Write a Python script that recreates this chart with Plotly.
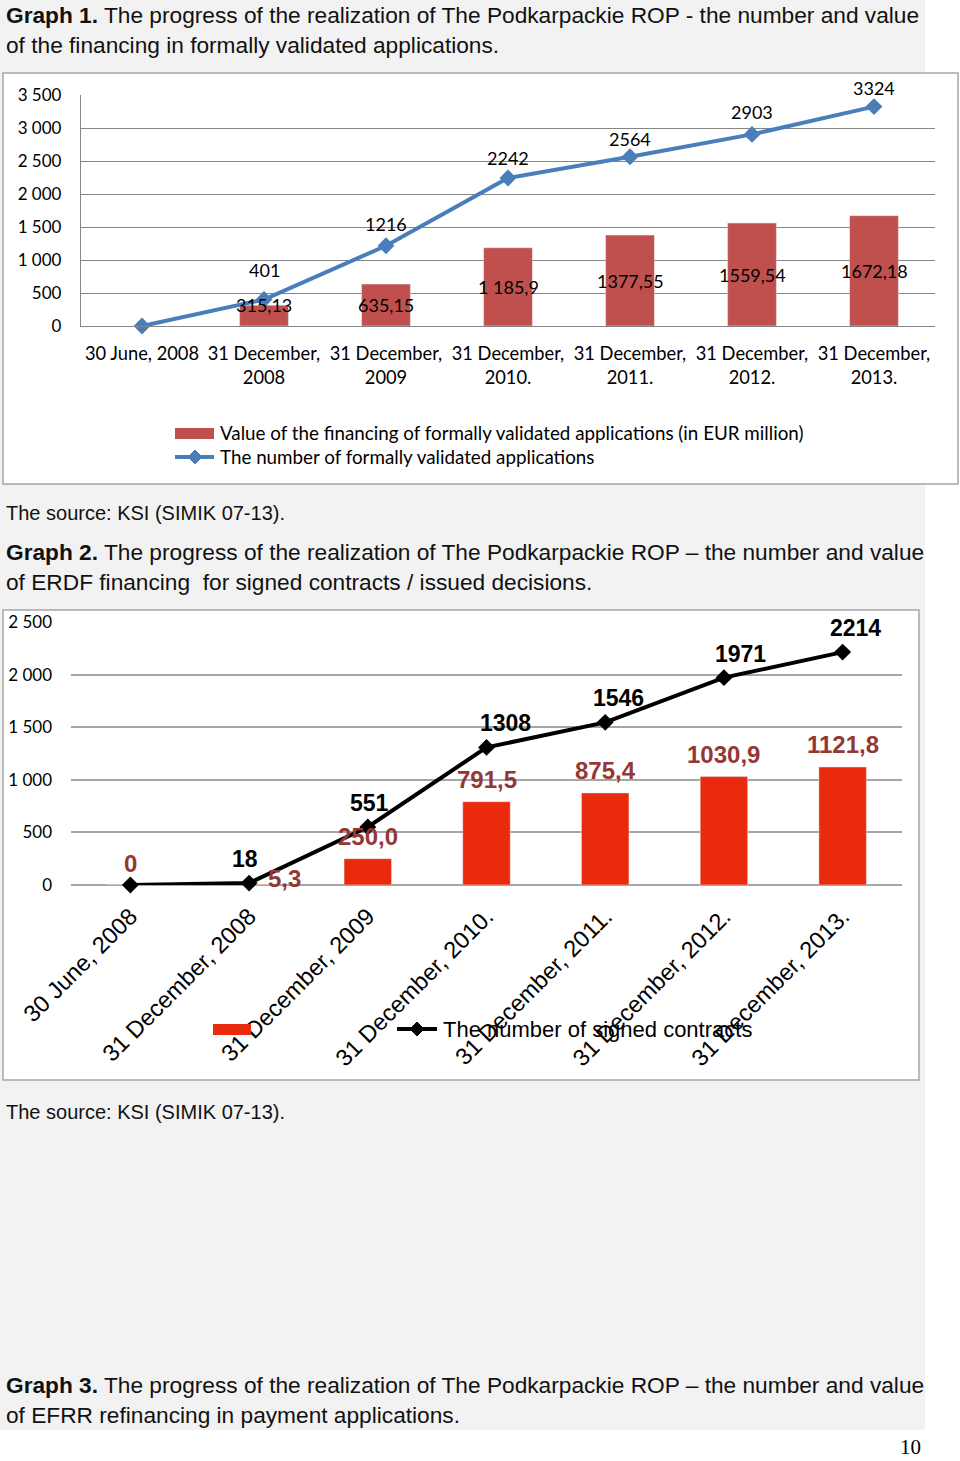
import plotly.graph_objects as go

W, H = 960, 1461

# ---------------- data ----------------
cats1 = ["30 June, 2008", "31 December,<br>2008", "31 December,<br>2009", "31 December,<br>2010.",
         "31 December,<br>2011.", "31 December,<br>2012.", "31 December,<br>2013."]
fin_value1 = [None, 315.13, 635.15, 1185.9, 1377.55, 1559.54, 1672.18]
fin_label1 = ["", "315,13", "635,15", "1 185,9", "1377,55", "1559,54", "1672,18"]
apps_count1 = [0, 401, 1216, 2242, 2564, 2903, 3324]
name_bar1 = "Value of the financing of formally validated applications (in EUR million)"
name_line1 = "The number of formally validated applications"

cats2 = ["30 June, 2008", "31 December, 2008", "31 December, 2009", "31 December, 2010.",
         "31 December, 2011.", "31 December, 2012.", "31 December, 2013."]
erdf_value2 = [0, 5.3, 250.0, 791.5, 875.4, 1030.9, 1121.8]
contracts2 = [0, 18, 551, 1308, 1546, 1971, 2214]
name_line2 = "The number of signed contracts"

# ---------------- helpers ----------------
def fx(px):
    return px / W

def fy(py):
    return 1 - py / H

CAL = "Lato, Carlito, sans-serif"
ARI = "Liberation Sans, Arial, sans-serif"

fig = go.Figure()

# chart 1
fig.add_trace(go.Bar(x=cats1, y=fin_value1, name=name_bar1, marker_color="#c0504d",
                     xaxis="x", yaxis="y", showlegend=False))
fig.add_trace(go.Scatter(x=cats1, y=apps_count1, name=name_line1, mode="lines+markers",
                         line=dict(color="#4a7ebb", width=4),
                         marker=dict(symbol="diamond", size=13, color="#4a7ebb"),
                         xaxis="x", yaxis="y", showlegend=False, cliponaxis=False))

# chart 2
fig.add_trace(go.Bar(x=cats2, y=erdf_value2, name=" ", marker_color="#ea2a0c",
                     xaxis="x2", yaxis="y2", showlegend=False))
fig.add_trace(go.Scatter(x=cats2, y=contracts2, name=name_line2, mode="lines+markers",
                         line=dict(color="#000000", width=4),
                         marker=dict(symbol="diamond", size=13, color="#000000"),
                         xaxis="x2", yaxis="y2", showlegend=False, cliponaxis=False))

ann = []
# chart 1 labels
line1_shift = [0, 30, 22, 20, 18, 22, 19]
for c, v, s in zip(cats1, apps_count1, line1_shift):
    if v == 0:
        continue
    ann.append(dict(x=c, y=v, xref="x", yref="y", text=str(v), showarrow=False, yshift=s,
                    font=dict(family=CAL, size=18, color="#000")))
bar1_shift = [0, 11, 0, 0, 0, 0, 0]
for c, v, t, s in zip(cats1, fin_value1, fin_label1, bar1_shift):
    if v is None:
        continue
    ann.append(dict(x=c, y=v / 2, xref="x", yref="y", text=t, showarrow=False, yshift=s,
                    font=dict(family=CAL, size=18, color="#000")))

# chart 2 labels
line2_xshift = [0, -4, 2, 19, 13, 17, 13]
for c, v, xs in zip(cats2, contracts2, line2_xshift):
    if v == 0:
        continue
    ann.append(dict(x=c, y=v, xref="x2", yref="y2", text="<b>%d</b>" % v, showarrow=False,
                    xshift=xs, yshift=24, font=dict(family=ARI, size=23, color="#000")))
bar2_xshift = [0, 35, 0, 0, 0, 0, 0]
bar2_yshift = [22, 6, 22, 22, 22, 22, 22]
for c, v, xs, ys in zip(cats2, erdf_value2, bar2_xshift, bar2_yshift):
    t = "0" if v == 0 else ("%.1f" % v).replace(".", ",")
    ann.append(dict(x=c, y=v, xref="x2", yref="y2", text="<b>%s</b>" % t, showarrow=False,
                    xshift=xs, yshift=ys, font=dict(family=ARI, size=24, color="#953735")))

# page texts
def txt(px, py, text, size=22.7, family=ARI, anchor="left", color="#111"):
    ann.append(dict(x=fx(px), y=fy(py), xref="paper", yref="paper", text=text, showarrow=False,
                    xanchor=anchor, yanchor="middle", font=dict(family=family, size=size, color=color)))

txt(4, 15, "<b>Graph 1.</b> The progress of the realization of The Podkarpackie ROP - the number and value")
txt(4, 45, "of the financing in formally validated applications.")
txt(4, 513, "The source: KSI (SIMIK 07-13).", size=20)
txt(4, 552, "<b>Graph 2.</b> The progress of the realization of The Podkarpackie ROP \u2013 the number and value")
txt(4, 582, "of ERDF financing&nbsp; for signed contracts / issued decisions.")
txt(4, 1112, "The source: KSI (SIMIK 07-13).", size=20)
txt(4, 1385, "<b>Graph 3.</b> The progress of the realization of The Podkarpackie ROP \u2013 the number and value")
txt(4, 1415, "of EFRR refinancing in payment applications.")
txt(910, 1447, "10", size=21, family="Liberation Serif, serif", anchor="center", color="#000")

# legends (manual)
txt(218, 433, name_bar1, size=18.8, family=CAL, color="#000")
txt(218, 457, name_line1, size=18.8, family=CAL, color="#000")
txt(441, 1029, name_line2, size=22, family=ARI, color="#000")

shapes = []
# page background
shapes.append(dict(type="rect", xref="paper", yref="paper", x0=fx(0), x1=fx(925), y0=fy(1430), y1=fy(0),
                   fillcolor="#f2f2f2", line=dict(width=0), layer="below"))
# chart boxes
shapes.append(dict(type="rect", xref="paper", yref="paper", x0=fx(3), x1=fx(958), y0=fy(484), y1=fy(73),
                   fillcolor="#ffffff", line=dict(color="#a6a6a6", width=1.5), layer="below"))
shapes.append(dict(type="rect", xref="paper", yref="paper", x0=fx(3), x1=fx(919), y0=fy(1080), y1=fy(610),
                   fillcolor="#ffffff", line=dict(color="#a6a6a6", width=1.5), layer="below"))

def diamond(cx, cy, r, color):
    p = "M %f,%f L %f,%f L %f,%f L %f,%f Z" % (fx(cx - r), fy(cy), fx(cx), fy(cy - r),
                                               fx(cx + r), fy(cy), fx(cx), fy(cy + r))
    return dict(type="path", xref="paper", yref="paper", path=p, fillcolor=color,
                line=dict(color=color, width=1))

# legend 1 symbols
shapes.append(dict(type="rect", xref="paper", yref="paper", x0=fx(175), x1=fx(214), y0=fy(439), y1=fy(428),
                   fillcolor="#c0504d", line=dict(width=0)))
shapes.append(dict(type="line", xref="paper", yref="paper", x0=fx(175), x1=fx(214), y0=fy(457), y1=fy(457),
                   line=dict(color="#4a7ebb", width=4)))
shapes.append(diamond(195, 457, 7, "#4a7ebb"))
# legend 2 symbols
shapes.append(dict(type="rect", xref="paper", yref="paper", x0=fx(213), x1=fx(251), y0=fy(1035), y1=fy(1024),
                   fillcolor="#ea2a0c", line=dict(width=0)))
shapes.append(dict(type="line", xref="paper", yref="paper", x0=fx(397), x1=fx(437), y0=fy(1029), y1=fy(1029),
                   line=dict(color="#000000", width=4)))
shapes.append(diamond(417, 1029, 7, "#000000"))

fig.update_layout(
    width=W, height=H, margin=dict(l=0, r=0, t=0, b=0),
    paper_bgcolor="#ffffff", plot_bgcolor="rgba(0,0,0,0)",
    separators=", ", bargap=0.6, showlegend=False,
    annotations=ann, shapes=shapes,
    xaxis=dict(domain=[fx(81), fx(935)], anchor="y", showgrid=False, showline=True, linecolor="#868686",
               linewidth=1.3, ticks="", tickfont=dict(family=CAL, size=18.3, color="#000"),
               ticklabelstandoff=11, automargin=False, fixedrange=True),
    yaxis=dict(domain=[fy(326), fy(95)], anchor="x", range=[0, 3500], dtick=500, tickformat=",",
               showgrid=True, gridcolor="#868686", gridwidth=1.3, showline=True, linecolor="#868686",
               linewidth=1.3, zeroline=False, ticks="", tickfont=dict(family=CAL, size=17, color="#000"),
               ticklabelstandoff=15, automargin=False),
    xaxis2=dict(domain=[fx(71), fx(902)], anchor="y2", showgrid=False, showline=False, ticks="",
                tickangle=-45, tickfont=dict(family=ARI, size=23.5, color="#000"),
                ticklabelstandoff=12, automargin=False),
    yaxis2=dict(domain=[fy(885), fy(622)], anchor="x2", range=[0, 2500], dtick=500, tickformat=",",
                showgrid=True, gridcolor="#a6a6a6", gridwidth=1.5, showline=False, zeroline=True,
                zerolinecolor="#a6a6a6", zerolinewidth=1.5, ticks="",
                tickfont=dict(family=CAL, size=17, color="#000"), ticklabelstandoff=18, automargin=False),
)

fig.write_html("out.html", config={"displayModeBar": False},
               post_script="document.body.style.margin='0';document.body.style.overflow='hidden';")
